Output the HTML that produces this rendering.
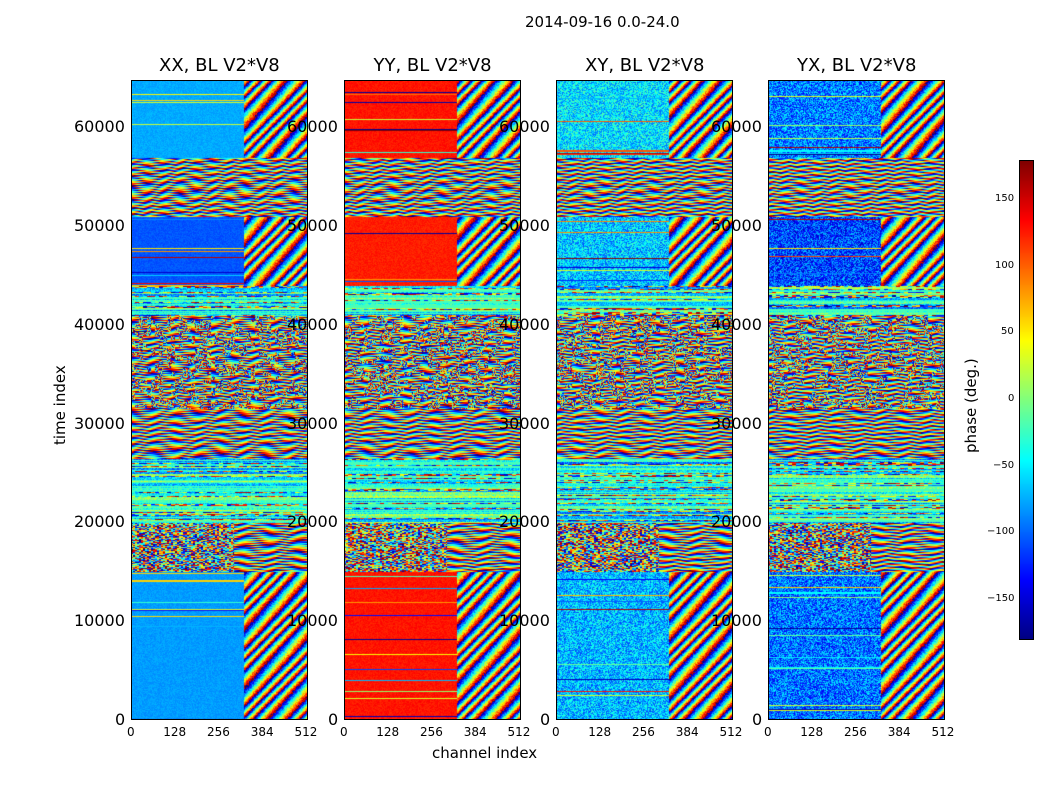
<!DOCTYPE html>
<html><head><meta charset="utf-8">
<style>
body{margin:0;background:#fff;font-family:"DejaVu Sans","Liberation Sans",sans-serif;}
#wrap{position:relative;width:1050px;height:800px;overflow:hidden;background:#fff;}
.t{position:absolute;white-space:nowrap;color:#000;}
canvas{position:absolute;}
.frame{position:absolute;border:1px solid #000;box-sizing:border-box;}
</style></head>
<body>
<div id="wrap">
<div class="t" style="left:525px;top:13px;font-size:15px;">2014-09-16 0.0-24.0</div>
<div class="t" style="left:51px;top:445px;font-size:15px;transform:rotate(-90deg);transform-origin:left top;">time index</div>
<div class="t" style="left:432px;top:744px;font-size:15px;">channel index</div>
<div class="t" style="left:962px;top:453px;font-size:15px;transform:rotate(-90deg);transform-origin:left top;">phase (deg.)</div>
</div>
<script>
const pols=['XX','YY','XY','YX'];
const panelLeft=[131,344,556,768];
const yTicks=[0,10000,20000,30000,40000,50000,60000];
const xTicks=[0,128,256,384,512];
const cbTicks=[150,100,50,0,-50,-100,-150];
const bandStart=[0,15000,20000,26500,31500,41000,44000,51000,57000];
const bandEnd=[15000,20000,26500,31500,41000,44000,51000,57000,64800];
const bandType=['flat','noise','stripe','fringe','mix','stripe','flat','fringe','flat'];
const flatXX=[-80,0,0,0,0,0,-105,0,-75];
const flatYY=[128,0,0,0,0,0,125,0,128];
const flatXY=[-70,0,0,0,0,0,-65,0,-55];
const flatYX=[-95,0,0,0,0,0,-110,0,-90];
const flatNoise=[8,8,45,50];
const flatBase=[flatXX,flatYY,flatXY,flatYX];
const YMAX=64800,XMAX=518,PT=80,PH=640,PW=177;
const wrap=document.getElementById('wrap');
function jet(x){const c=v=>Math.max(0,Math.min(1,v));return [c(1.5-Math.abs(4*x-3))*255,c(1.5-Math.abs(4*x-2))*255,c(1.5-Math.abs(4*x-1))*255];}
function hash(a,b,c){let h=(a*374761393+b*668265263+c*2147483647)|0;h=(h^(h>>>13))*1274126177|0;return ((h^(h>>>16))>>>0)/4294967296;}
function wrapPh(p){return ((p+180)%360+360)%360-180;}
function yPix(t){return PT+PH-t/YMAX*PH;}
function xPix(ch,i){return panelLeft[i]+ch/XMAX*PW;}
function txt(s,l,tp,fs,name){const d=document.createElement('div');d.className='t';d.textContent=s;d.style.left=l+'px';d.style.top=tp+'px';d.style.fontSize=fs+'px';


wrap.appendChild(d);return d;}
pols.forEach((p,i)=>{
 const cv=document.createElement('canvas');cv.width=PW;cv.height=PH;cv.style.left=panelLeft[i]+'px';cv.style.top=PT+'px';
 
 
 wrap.appendChild(cv);
 const ctx=cv.getContext('2d');const img=ctx.createImageData(PW,PH);
 for(let r=0;r<PH;r++){
  const t=(PH-r)/PH*YMAX;let b=0;while(b<bandStart.length-1&&t>=bandEnd[b])b++;
  const ty=bandType[b];const rowRnd=hash(r,i,7);const rowCol=hash(r>>1,i,3)*360-180;
  for(let c=0;c<PW;c++){
   const ch=c/PW*XMAX;let ph;
   const fr=wrapPh(ch*(3+b*0.4)*(r%2?1:-0.3)+r*(45+i*5)+120*Math.sin(ch/25+r/12+i)+i*50+80*Math.sin(r/7));
   if(ty==='flat'){
    if(ch<330){ph=flatBase[i][b]+(hash(c,r,i)-0.5)*2*flatNoise[i];if(rowRnd<0.08)ph=rowCol;}
    else ph=wrapPh(ch*9+r*25+90*Math.sin(r/9+ch/30)+i*90+(hash(c,r,i)-0.5)*60);
   }else if(ty==='noise'){ph=ch>300?fr:hash(c>>1,r,i+11)*360-180;}
   else if(ty==='stripe'){ph=rowRnd<0.55?-40+(hash(r>>1,i,9)-0.5)*120+(hash(c,r,i)-0.5)*60:(rowRnd<0.75?-20:hash(c>>2,r,i)*360-180);}
   else if(ty==='fringe'){ph=fr;}
   else{ph=hash(c>>2,r>>2,i)<0.4?hash(c,r,i+5)*360-180:fr;}
   const col=jet((wrapPh(ph)+180)/360);const k=(r*PW+c)*4;
   img.data[k]=col[0];img.data[k+1]=col[1];img.data[k+2]=col[2];img.data[k+3]=255;
  }
 }
 ctx.putImageData(img,0,0);
 const fr=document.createElement('div');fr.className='frame';fr.style.left=panelLeft[i]+'px';fr.style.top=PT+'px';fr.style.width=PW+'px';fr.style.height=PH+'px';
 
 
 wrap.appendChild(fr);
 const tt=txt(p+', BL V2*V8',0,55,18,'panel-title-'+p.toLowerCase());tt.style.left=(panelLeft[i]+PW/2-tt.offsetWidth/2)+'px';
 yTicks.forEach(v=>{const d=txt(String(v),0,yPix(v)-10,16,'y-tick-label');d.style.left=(panelLeft[i]-6-d.offsetWidth)+'px';});
 xTicks.forEach(v=>{const d=txt(String(v),0,725,12,'x-tick-label');d.style.left=(xPix(v,i)-d.offsetWidth/2)+'px';});
});
const cb=document.createElement('canvas');cb.width=14;cb.height=480;cb.style.left='1019px';cb.style.top='160px';


wrap.appendChild(cb);
const cc=cb.getContext('2d');
for(let y=0;y<480;y++){const c=jet(1-y/480);cc.fillStyle=`rgb(${c[0]|0},${c[1]|0},${c[2]|0})`;cc.fillRect(0,y,14,1);}
const cf=document.createElement('div');cf.className='frame';cf.style.cssText='left:1019px;top:160px;width:15px;height:480px;';


wrap.appendChild(cf);
cbTicks.forEach(v=>{const y=160+(180-v)/360*480;const d=txt(v<0?'\u2212'+(-v):String(v),0,y-7,10,'colorbar-tick-label');d.style.left=(1014-d.offsetWidth)+'px';});
</script>
</body></html>
